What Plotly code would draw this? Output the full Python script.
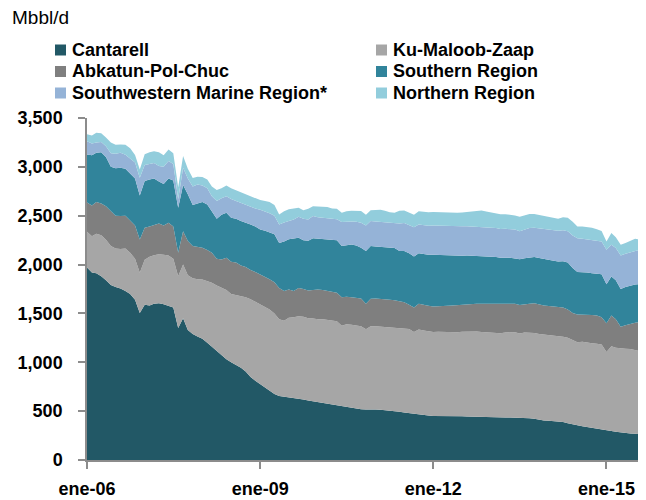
import pandas as pd
import plotly.graph_objects as go

months = pd.date_range("2006-01-01", "2015-08-01", freq="MS")

cantarell = [
    1970, 1920, 1910, 1880, 1840, 1790, 1770, 1755, 1730, 1700, 1640, 1505,
    1590, 1580, 1600, 1605, 1595, 1575, 1560, 1350, 1450, 1330, 1290, 1265,
    1240, 1200, 1160, 1120, 1080, 1030, 1000, 975, 945, 905, 850, 810,
    775, 745, 705, 675, 655, 648, 645, 640, 630, 620, 608, 600,
    595, 588, 580, 570, 560, 555, 545, 535, 525, 520, 518, 520,
    518, 515, 512, 505, 500, 495, 485, 478, 470, 462, 458, 455,
    450, 450, 452, 453, 452, 450, 448, 445, 443, 440, 438, 436,
    436, 437, 436, 435, 436, 435, 436, 435, 428, 423, 412, 405,
    402, 400, 399, 390, 375, 362, 355, 345, 338, 330, 325, 318,
    305, 298, 288, 280, 276, 272, 268, 263]

ku_maloob_zaap = [
    365, 370, 405, 420, 415, 400, 395, 405, 435, 420, 420, 411,
    460, 500, 495, 500, 505, 519, 500, 530, 550, 560, 570, 585,
    608, 635, 655, 665, 685, 710, 700, 715, 735, 760, 795, 810,
    820, 825, 835, 825, 785, 777, 810, 820, 840, 845, 842, 848,
    845, 852, 855, 860, 860, 820, 845, 850, 850, 850, 819, 850,
    850, 850, 850, 853, 856, 855, 860, 862, 840, 873, 867, 863,
    860, 862, 858, 855, 854, 858, 864, 870, 873, 874, 872, 870,
    866, 865, 862, 870, 874, 873, 859, 870, 874, 877, 878, 880,
    878, 875, 871, 872, 875, 868, 850, 865, 862, 865, 865, 865,
    800, 867, 862, 860, 862, 863, 857, 852]

abkatun_pol_chuc = [
    300, 315, 325, 325, 343, 355, 335, 336, 335, 330, 340, 341,
    327, 310, 310, 315, 300, 334, 330, 241, 340, 350, 330, 330,
    324, 315, 305, 275, 288, 330, 330, 330, 310, 310, 300, 305,
    305, 310, 310, 320, 320, 305, 290, 270, 290, 285, 285, 292,
    305, 300, 295, 295, 292, 290, 280, 280, 285, 282, 263, 280,
    284, 285, 283, 282, 279, 275, 270, 250, 250, 265, 260, 260,
    262, 260, 264, 270, 274, 277, 278, 280, 284, 286, 290, 294,
    300, 298, 297, 295, 290, 290, 290, 290, 298, 303, 300, 295,
    295, 295, 292, 298, 290, 275, 285, 280, 288, 290, 290, 277,
    294, 315, 290, 224, 242, 260, 280, 300]

southern_region = [
    492, 515, 504, 525, 502, 455, 485, 494, 480, 480, 480, 451,
    477, 480, 475, 430, 425, 452, 470, 460, 475, 480, 420, 445,
    468, 465, 420, 410, 457, 460, 450, 450, 455, 455, 465, 465,
    460, 465, 480, 490, 460, 505, 515, 540, 515, 500, 510, 530,
    520, 520, 525, 530, 536, 525, 530, 540, 535, 520, 538, 540,
    533, 530, 535, 538, 535, 515, 525, 525, 523, 515, 520, 522,
    528, 526, 521, 514, 510, 503, 500, 497, 490, 490, 488, 485,
    480, 478, 475, 472, 470, 464, 470, 470, 475, 475, 476, 480,
    475, 470, 470, 475, 480, 459, 435, 435, 430, 427, 425, 440,
    400, 398, 400, 387, 390, 390, 390, 385]

southwestern_marine = [
    136, 120, 105, 105, 110, 140, 150, 155, 145, 160, 165, 180,
    165, 160, 160, 160, 175, 180, 170, 90, 175, 160, 190, 195,
    170, 165, 160, 180, 170, 170, 190, 180, 185, 185, 185, 185,
    200, 200, 195, 190, 190, 195, 185, 190, 215, 220, 215, 226,
    220, 220, 220, 215, 217, 245, 240, 237, 243, 256, 262, 255,
    255, 255, 252, 252, 255, 281, 285, 290, 298, 295, 295, 298,
    300, 300, 300, 300, 300, 302, 302, 300, 300, 300, 300, 298,
    296, 295, 295, 295, 295, 296, 285, 295, 298, 300, 305, 305,
    305, 310, 314, 315, 320, 334, 345, 340, 340, 340, 338, 335,
    353, 325, 330, 342, 340, 340, 350, 352]

northern_region = [
    70, 80, 100, 90, 90, 110, 90, 85, 100, 100, 77, 86,
    110, 120, 120, 140, 120, 118, 110, 120, 120, 100, 85, 80,
    85, 90, 100, 112, 100, 110, 110, 110, 105, 105, 105, 105,
    100, 105, 115, 110, 102, 115, 120, 115, 91, 85, 110, 102,
    110, 112, 113, 105, 105, 95, 105, 108, 107, 119, 110, 110,
    118, 125, 118, 105, 105, 130, 128, 130, 130, 135, 137, 137,
    137, 137, 138, 140, 140, 140, 142, 145, 150, 160, 165, 160,
    155, 150, 150, 148, 145, 145, 150, 148, 145, 140, 137, 138,
    138, 136, 124, 135, 138, 140, 120, 125, 125, 125, 118, 109,
    85, 120, 110, 110, 112, 115, 120, 102]

series_names = ["Cantarell", "Ku-Maloob-Zaap", "Abkatun-Pol-Chuc",
                "Southern Region", "Southwestern Marine Region*", "Northern Region"]
series_values = [cantarell, ku_maloob_zaap, abkatun_pol_chuc,
                 southern_region, southwestern_marine, northern_region]
series_colors = ["#225866", "#A6A6A6", "#7F7F7F", "#31849B", "#95B3D7", "#92CDDC"]

tick_dates = ["2006-01-01", "2009-01-01", "2012-01-01", "2015-01-01"]
tick_text = ["ene-06", "ene-09", "ene-12", "ene-15"]
y_ticks = [0, 500, 1000, 1500, 2000, 2500, 3000, 3500]

FONT = "Liberation Sans, Arial, sans-serif"
FS = 18

fig = go.Figure()
for name, vals, col in zip(series_names, series_values, series_colors):
    fig.add_trace(go.Scatter(
        x=months, y=vals, name=name, mode="lines", stackgroup="one",
        line=dict(width=0, color=col), fillcolor=col, showlegend=False))

# The page body has an 8px margin: work in page pixels, then shift.
OFF = 8
W, H = 646 - OFF, 500 - OFF
PL, PR, PT, PB = 87, 640, 118, 460          # plot box in page pixels
L, R, T, B = PL - OFF, W - (PR - OFF), PT - OFF, H - (PB - OFF)
pw, ph = W - L - R, H - T - B


def px(x):
    return (x - OFF - L) / pw


def py(y):
    return (H - B - (y - OFF)) / ph


shapes = []
annotations = []
leg_pos = [(55, 50), (376, 50), (55, 71.5), (376, 71.5), (55, 93), (376, 93)]
for (lx, ly), name, col in zip(leg_pos, series_names, series_colors):
    shapes.append(dict(type="rect", xref="paper", yref="paper",
                       x0=px(lx), x1=px(lx + 11), y0=py(ly + 5.5), y1=py(ly - 5.5),
                       fillcolor=col, line=dict(width=0)))
    annotations.append(dict(text="<b>%s</b>" % name, xref="paper", yref="paper",
                            x=px(lx + 15), y=py(ly), xanchor="left", yanchor="middle",
                            showarrow=False, font=dict(family=FONT, size=FS, color="#000000")))

annotations.append(dict(text="Mbbl/d", xref="paper", yref="paper",
                        x=px(10), y=py(18), xanchor="left", yanchor="middle",
                        showarrow=False, font=dict(family=FONT, size=19, color="#000000")))

axis_col = "#8C8C8C"
fig.update_layout(
    width=W, height=H,
    margin=dict(l=L, r=R, t=T, b=B, pad=0, autoexpand=False),
    plot_bgcolor="white", paper_bgcolor="white",
    shapes=shapes, annotations=annotations,
    font=dict(family=FONT, size=FS, color="#000000"),
    xaxis=dict(type="date", range=["2006-01-01", "2015-08-01"], automargin=False,
               tickvals=tick_dates, ticktext=["<b>%s</b>" % t for t in tick_text],
               showgrid=False, zeroline=False, showline=True, linecolor=axis_col,
               linewidth=1.5, ticks="outside", ticklen=7, tickwidth=1.5,
               tickcolor=axis_col, ticklabelstandoff=5,
               tickfont=dict(family=FONT, size=FS, color="#000000")),
    yaxis=dict(range=[0, 3500], tickvals=y_ticks, automargin=False,
               ticktext=["<b>{:,}</b>".format(v) for v in y_ticks],
               showgrid=False, zeroline=False, showline=True, linecolor=axis_col,
               linewidth=1.5, ticks="outside", ticklen=7, tickwidth=1.5,
               tickcolor=axis_col, ticklabelstandoff=12,
               tickfont=dict(family=FONT, size=FS, color="#000000")),
)

fig.write_html("out.html")
